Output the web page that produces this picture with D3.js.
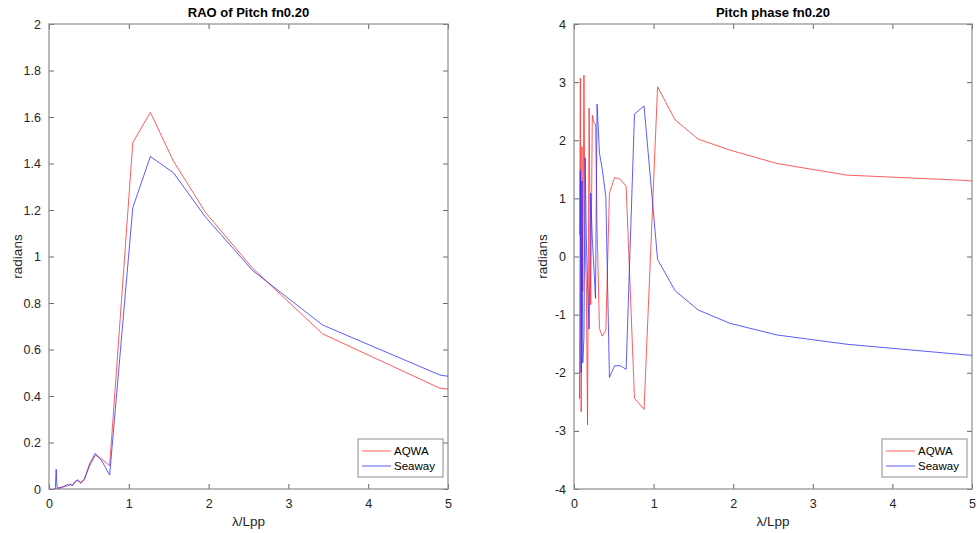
<!DOCTYPE html>
<html>
<head>
<meta charset="utf-8">
<script src="https://cdn.jsdelivr.net/npm/d3@7"></script>
<style>
  body { margin: 0; background: #fff; }
  svg { font-family: "Liberation Sans", Arial, sans-serif; }
</style>
</head>
<body>
<svg id="chart" width="977" height="533"></svg>
<script>
// wavelength ratio grid (shared by both solvers)
var lambda = [0.07, 0.08, 0.09, 0.10, 0.11, 0.125, 0.14, 0.155, 0.17, 0.19, 0.21, 0.23, 0.25, 0.27, 0.29,
              0.32, 0.355, 0.40, 0.445, 0.51, 0.58, 0.655, 0.76, 0.88, 1.05, 1.27, 1.56, 1.96, 2.55, 3.43, 4.9, 5.0];

// RAO of pitch
var raoAqwa = [0.0, 0.002, 0.003, 0.003, 0.004, 0.005, 0.006, 0.008, 0.010, 0.012, 0.015, 0.012, 0.018, 0.022, 0.015,
               0.025, 0.038, 0.028, 0.045, 0.100, 0.146, 0.130, 0.100, 0.675, 1.49, 1.62, 1.41, 1.19, 0.95, 0.667, 0.433, 0.43];
var raoSeaway = [0.0, 0.005, 0.085, 0.010, 0.004, 0.004, 0.005, 0.006, 0.008, 0.010, 0.012, 0.020, 0.015, 0.020, 0.013,
                 0.030, 0.039, 0.024, 0.042, 0.110, 0.153, 0.125, 0.060, 0.536, 1.21, 1.43, 1.36, 1.17, 0.94, 0.705, 0.49, 0.485];

// pitch phase
var phaseAqwa = [0.37, 3.07, -2.67, 1.89, -0.6, 3.12, 0.2, -0.5, -2.9, 2.55, -0.83, 2.43, 2.30, 2.28, 0.5,
                 -1.24, -1.37, -1.27, 1.09, 1.36, 1.33, 1.21, -2.44, -2.63, 2.92, 2.35, 2.02, 1.83, 1.60, 1.40, 1.31, 1.30];
var phaseSeaway = [-2.45, 1.48, -2.0, 1.3, -1.83, -1.4, 1.7, 0.3, -0.45, -1.25, 1.09, 0.3, -0.2, -0.72, 2.62,
                   1.78, 1.5, 1.03, -2.08, -1.88, -1.88, -1.94, 2.45, 2.59, -0.05, -0.59, -0.92, -1.15, -1.35, -1.51, -1.69, -1.70];

var seriesNames = ['AQWA', 'Seaway'];
var seriesColors = ['#ff2a2a', '#2a2aff'];

var raoTicks = [0, 0.2, 0.4, 0.6, 0.8, 1, 1.2, 1.4, 1.6, 1.8, 2];
var phaseTicks = [-4, -3, -2, -1, 0, 1, 2, 3, 4];
var lambdaTicks = [0, 1, 2, 3, 4, 5];

var svg = d3.select('#chart');
var axisColor = '#8c8c8c';
var textColor = '#262626';

function drawPanel(opts) {
  var g = svg.append('g');
  var x = d3.scaleLinear().domain([0, 5]).range([opts.left, opts.right]);
  var y = d3.scaleLinear().domain(opts.yDomain).range([opts.bottom, opts.top]);

  // clip lines to the axes box
  var clipId = 'clip' + opts.id;
  svg.append('clipPath').attr('id', clipId).append('rect')
    .attr('x', opts.left).attr('y', opts.top)
    .attr('width', opts.right - opts.left).attr('height', opts.bottom - opts.top);

  var tl = 5;
  // ticks on all four sides, pointing inwards
  g.append('g').attr('transform', 'translate(0,' + opts.bottom + ')')
    .call(d3.axisBottom(x).tickValues(lambdaTicks).tickSizeInner(-tl).tickSizeOuter(0).tickPadding(10).tickFormat(d3.format('d')));
  g.append('g').attr('transform', 'translate(0,' + opts.top + ')')
    .call(d3.axisTop(x).tickValues(lambdaTicks).tickSizeInner(-tl).tickSizeOuter(0).tickFormat(''));
  g.append('g').attr('transform', 'translate(' + opts.left + ',0)')
    .call(d3.axisLeft(y).tickValues(opts.yTicks).tickSizeInner(-tl).tickSizeOuter(0).tickPadding(8).tickFormat(function(d) { return String(+d.toFixed(1)); }));
  g.append('g').attr('transform', 'translate(' + opts.right + ',0)')
    .call(d3.axisRight(y).tickValues(opts.yTicks).tickSizeInner(-tl).tickSizeOuter(0).tickFormat(''));

  g.selectAll('.domain').remove();
  g.selectAll('.tick line').attr('stroke', '#666');
  g.selectAll('.tick text').attr('fill', textColor).style('font-size', '12.5px');

  g.append('rect')
    .attr('x', opts.left).attr('y', opts.top)
    .attr('width', opts.right - opts.left).attr('height', opts.bottom - opts.top)
    .attr('fill', 'none').attr('stroke', axisColor).attr('stroke-width', 1.2);

  var line = d3.line()
    .x(function(d, i) { return x(lambda[i]); })
    .y(function(d) { return y(d); });

  var lines = g.append('g').attr('clip-path', 'url(#' + clipId + ')');
  opts.series.forEach(function(s, k) {
    lines.append('path').datum(s)
      .attr('d', line)
      .attr('fill', 'none')
      .attr('stroke', seriesColors[k])
      .attr('stroke-width', 0.9)
      .attr('stroke-opacity', 0.85);
  });

  // title
  g.append('text')
    .attr('x', (opts.left + opts.right) / 2).attr('y', opts.top - 7)
    .attr('text-anchor', 'middle').attr('fill', '#000')
    .style('font-size', '13px').style('font-weight', 'bold')
    .text(opts.title);

  // axis labels
  g.append('text')
    .attr('x', (opts.left + opts.right) / 2).attr('y', opts.bottom + 37)
    .attr('text-anchor', 'middle').attr('fill', textColor)
    .style('font-size', '13.5px')
    .text('\u03bb/Lpp');
  g.append('text')
    .attr('transform', 'translate(' + (opts.left - 27) + ',' + ((opts.top + opts.bottom) / 2) + ') rotate(-90)')
    .attr('text-anchor', 'middle').attr('fill', textColor)
    .style('font-size', '13.5px')
    .text('radians');

  // legend
  var lw = 85, lh = 38;
  var lx = opts.right - 5 - lw, ly = opts.bottom - 12 - lh;
  var leg = g.append('g').attr('transform', 'translate(' + lx + ',' + ly + ')');
  leg.append('rect').attr('width', lw).attr('height', lh)
    .attr('fill', '#fff').attr('stroke', axisColor).attr('stroke-width', 1);
  seriesNames.forEach(function(name, k) {
    var yy = 12 + k * 15;
    leg.append('line').attr('x1', 4).attr('x2', 33).attr('y1', yy).attr('y2', yy)
      .attr('stroke', seriesColors[k]).attr('stroke-width', 0.9).attr('stroke-opacity', 0.85);
    leg.append('text').attr('x', 36).attr('y', yy + 4)
      .attr('fill', '#000').style('font-size', '11.5px').text(name);
  });
}

drawPanel({ id: 'rao', left: 49, right: 448, top: 24, bottom: 489, yDomain: [0, 2], yTicks: raoTicks,
  title: 'RAO of Pitch fn0.20', series: [raoAqwa, raoSeaway] });
drawPanel({ id: 'phase', left: 574, right: 972, top: 24, bottom: 489, yDomain: [-4, 4], yTicks: phaseTicks,
  title: 'Pitch phase fn0.20', series: [phaseAqwa, phaseSeaway] });
</script>
</body>
</html>
